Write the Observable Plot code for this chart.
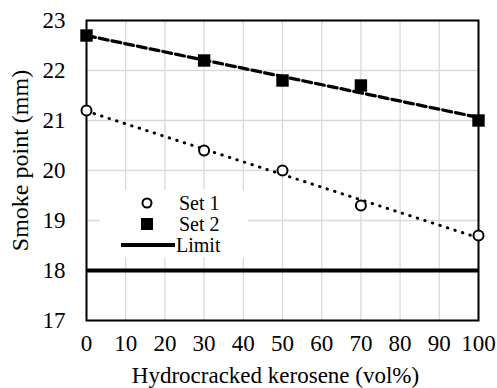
<!DOCTYPE html>
<html><head><meta charset="utf-8">
<script src="https://cdn.jsdelivr.net/npm/d3@7"></script>
<script src="https://cdn.jsdelivr.net/npm/@observablehq/plot@0.6"></script>
<style>
body{margin:0;background:#fff;}
#chart{position:relative;width:497px;height:388px;}
#chart svg, #chart svg text{font-family:"Liberation Serif","Times New Roman",serif !important;}
#legend{position:absolute;left:0;top:0;}
</style></head><body><div id="chart"></div>
<script>
const kerosene = [0, 30, 50, 70, 100];
const set1 = [21.2, 20.4, 20.0, 19.3, 18.7];
const set2 = [22.7, 22.2, 21.8, 21.7, 21.0];
const limit = 18;
const xTicks = [0, 10, 20, 30, 40, 50, 60, 70, 80, 90, 100];
const yTicks = [17, 18, 19, 20, 21, 22, 23];
const legendLabels = ["Set 1", "Set 2", "Limit"];
const xLabel = "Hydrocracked kerosene (vol%)";
const yLabel = "Smoke point (mm)";

const d1 = kerosene.map((x, i) => ({x, y: set1[i]}));
const d2 = kerosene.map((x, i) => ({x, y: set2[i]}));
const FONT = "Liberation Serif";

const plot = Plot.plot({
  width: 497, height: 388,
  marginLeft: 86, marginRight: 19, marginTop: 20, marginBottom: 68,
  style: {fontFamily: FONT, fontSize: "22px", color: "#000", background: "#fff"},
  x: {domain: [0, 100]},
  y: {domain: [17, 23]},
  marks: [
    Plot.gridX(xTicks, {stroke: "#d9d9d9", strokeOpacity: 1, strokeWidth: 1.3}),
    Plot.gridY(yTicks, {stroke: "#d9d9d9", strokeOpacity: 1, strokeWidth: 1.3}),
    Plot.ruleY([limit], {stroke: "#000", strokeWidth: 4}),
    Plot.linearRegressionY(d1, {x: "x", y: "y", ci: 0, stroke: "#000", strokeWidth: 3, strokeDasharray: "0.5,7.4", strokeLinecap: "round"}),
    Plot.linearRegressionY(d2, {x: "x", y: "y", ci: 0, stroke: "#000", strokeWidth: 3.3, strokeDasharray: "9,4"}),
    Plot.frame({stroke: "#000", strokeWidth: 2}),
    Plot.dot(d1, {x: "x", y: "y", r: 5, fill: "#fff", stroke: "#000", strokeWidth: 2}),
    Plot.dot(d2, {x: "x", y: "y", symbol: "square", r: 7, fill: "#000", stroke: "none"}),
    Plot.axisX({ticks: xTicks, tickFormat: d => String(d), tickSize: 0, tickPadding: 14, fontSize: 23, fontFamily: FONT, fill: "#000", label: null}),
    Plot.axisY({ticks: yTicks, tickFormat: d => String(d), tickSize: 0, tickPadding: 21, fontSize: 23, fontFamily: FONT, fill: "#000", label: null}),
    Plot.text([xLabel], {text: d => d, frameAnchor: "bottom", textAnchor: "middle", lineAnchor: "top", dy: 46, dx: -7, fontSize: 23, fontFamily: FONT, fill: "#000"}),
    Plot.text([yLabel], {text: d => d, frameAnchor: "left", textAnchor: "middle", rotate: -90, lineAnchor: "top", dx: -76, dy: -10, fontSize: 24, fontFamily: FONT, fill: "#000"})
  ]
});
const chart = document.getElementById("chart");
chart.appendChild(plot);

// legend overlay
const lg = d3.select(chart).append("svg").attr("id", "legend")
  .attr("width", 497).attr("height", 388)
  .style("font-size", "20px");
lg.append("rect").attr("x", 100).attr("y", 190).attr("width", 148).attr("height", 67).attr("fill", "#fff");
const rows = [203, 224, 245];
const sym = d3.symbol().type(d3.symbolSquare).size(144);
lg.append("circle").attr("cx", 147).attr("cy", rows[0]).attr("r", 4.5).attr("fill", "#fff").attr("stroke", "#000").attr("stroke-width", 2);
lg.append("path").attr("d", sym()).attr("transform", `translate(147,${rows[1]})`).attr("fill", "#000");
lg.append("line").attr("x1", 121).attr("x2", 175).attr("y1", rows[2]).attr("y2", rows[2]).attr("stroke", "#000").attr("stroke-width", 4);
legendLabels.forEach((t, i) => {
  lg.append("text").attr("x", i === 2 ? 176 : 179).attr("y", rows[i]).attr("dy", "0.35em").attr("fill", "#000").text(t);
});
</script></body></html>
